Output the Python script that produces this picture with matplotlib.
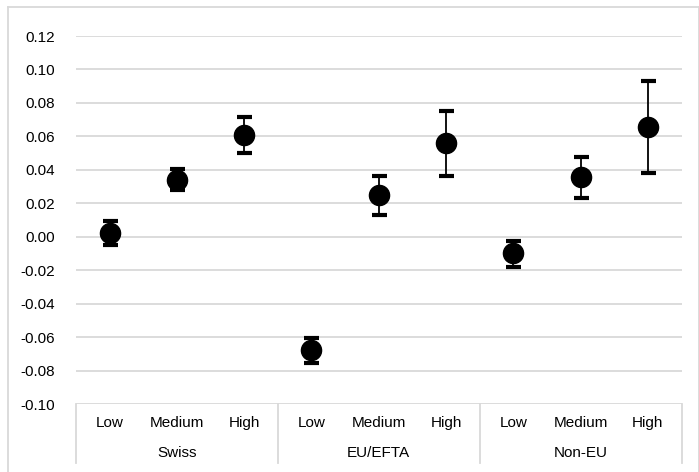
import matplotlib
matplotlib.use("Agg")
import matplotlib.pyplot as plt
from matplotlib.lines import Line2D

# --------------------------------
# DATA
# --------------------------------

groups = ["Swiss", "EU/EFTA", "Non-EU"]
levels = ["Low", "Medium", "High"]

estimate = [0.002, 0.034, 0.061,
            -0.068, 0.025, 0.056,
            -0.010, 0.0355, 0.0655]
upper = [0.0093, 0.0405, 0.0718,
         -0.0607, 0.0365, 0.0754,
         -0.0024, 0.0479, 0.0929]
lower = [-0.0048, 0.028, 0.0499,
         -0.0753, 0.0132, 0.0365,
         -0.0179, 0.0233, 0.0379]

y_ticks = [-0.10, -0.08, -0.06, -0.04, -0.02, 0.00, 0.02, 0.04, 0.06, 0.08, 0.10, 0.12]

# --------------------------------
# FIGURE
# --------------------------------

plt.rcParams["font.family"] = ["Liberation Sans", "DejaVu Sans"]
plt.rcParams["font.size"] = 11

W, H = 699, 472
fig = plt.figure(figsize=(W / 100, H / 100), dpi=100)
ax = fig.add_axes([76 / W, (H - 404) / H, (681.5 - 76) / W, (404 - 36) / H])

grid_color = "#d9d9d9"

x = list(range(len(estimate)))
err_lo = [e - l for e, l in zip(estimate, lower)]
err_hi = [u - e for e, u in zip(estimate, upper)]

ax.errorbar(x, estimate, yerr=[err_lo, err_hi], fmt="o", color="black",
            markersize=14.5, elinewidth=1.3, capsize=5.4, capthick=3,
            zorder=3)

ax.set_xlim(-0.5, len(estimate) - 0.5)
ax.set_ylim(y_ticks[0], y_ticks[-1])
ax.set_yticks(y_ticks)
ax.set_yticklabels([f"{v:.2f}" for v in y_ticks])
ax.tick_params(axis="y", length=0, pad=15, labelsize=11)
ax.set_xticks([])

for v in y_ticks:
    ax.axhline(v, color=grid_color, linewidth=1.3, zorder=1)

for s in ax.spines.values():
    s.set_visible(False)

# --------------------------------
# CATEGORY AXIS
# --------------------------------

trans = ax.get_xaxis_transform()
box_bottom = -0.1595

for i, lab in enumerate(levels * len(groups)):
    ax.text(i, -0.0525, lab, transform=trans, ha="center", va="center",
            fontsize=11, clip_on=False)

for g, name in enumerate(groups):
    ax.text(g * 3 + 1, -0.1323, name, transform=trans, ha="center",
            va="center", fontsize=11, clip_on=False)

for xs in [-0.5, 2.5, 5.5, 8.5]:
    ax.plot([xs, xs], [0, box_bottom], transform=trans, color=grid_color,
            linewidth=1.3, clip_on=False)

# --------------------------------
# CHART BORDER
# --------------------------------

top = 1 - 7 / H
left = 8 / W
right = 698.5 / W
fig.add_artist(Line2D([left, right], [top, top], color=grid_color, linewidth=1.3))
fig.add_artist(Line2D([left, left], [0, top], color=grid_color, linewidth=1.3))
fig.add_artist(Line2D([right, right], [0, top], color=grid_color, linewidth=1.3))

fig.savefig("out.png", dpi=100)
